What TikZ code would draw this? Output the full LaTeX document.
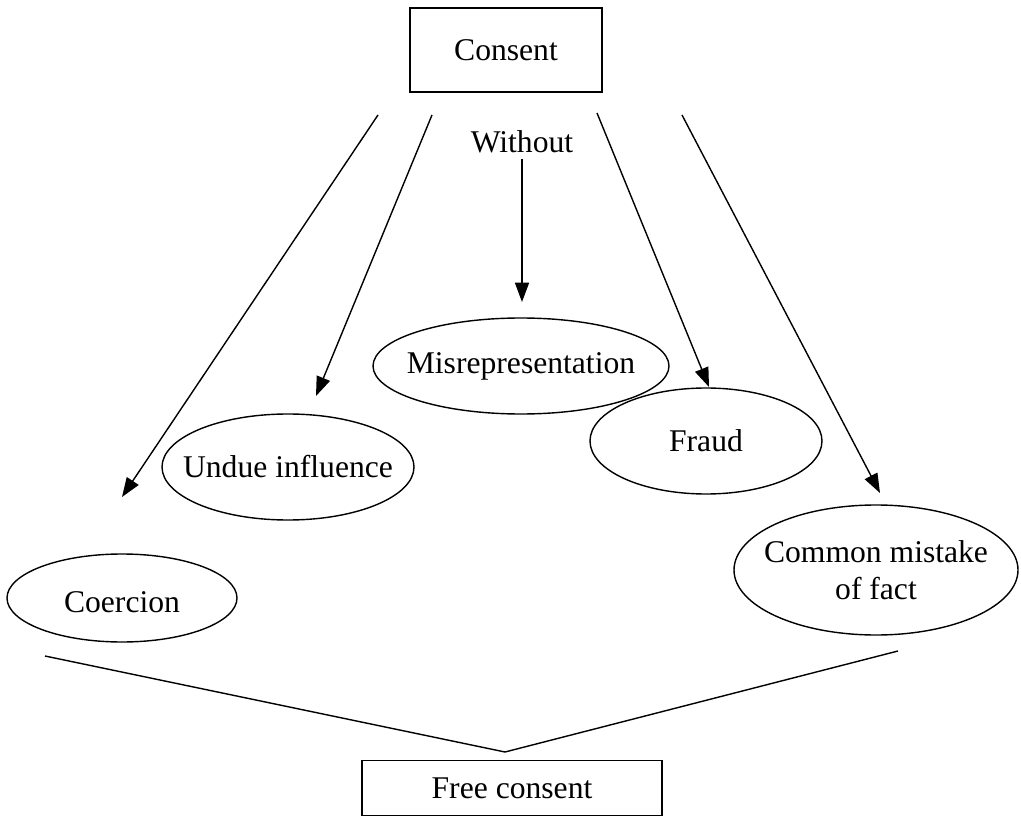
\documentclass[tikz,border=0pt]{standalone}
\usepackage{fontspec}
\setmainfont{Liberation Serif}
\usepackage{tikz}
\usetikzlibrary{positioning,arrows.meta}

\begin{document}
\begin{tikzpicture}[x=0.02cm,y=-0.02cm,
	font=\fontsize{18}{21}\selectfont,
	>={Triangle[length=11pt,width=8pt]},
	box/.style={draw,thick,rectangle},
	oval/.style={draw,thick}]
	\useasboundingbox (0,0) rectangle (1021,817);

	\node[box,minimum width=192*0.02cm,minimum height=84*0.02cm] (consent) at (506,50) {Consent};
	\node (without) at (522,142) {Without};
	\node[box,minimum width=300*0.02cm,minimum height=55*0.02cm] (free) at (512,788) {Free consent};

	\node (misrep) at (521,366) {Misrepresentation};
	\node (undue) at (288,467) {Undue influence};
	\node (fraud) at (706,441) {Fraud};
	\node (coercion) at (122,602) {Coercion};
	\node[align=center] (mistake) at (876,570) {Common mistake\\of fact};

	% ovals round the causes
	\draw[oval] (misrep.center) ellipse [x radius=148, y radius=48];
	\draw[oval] (undue.center) ellipse [x radius=126, y radius=53];
	\draw[oval] (fraud.center) ellipse [x radius=116, y radius=53];
	\draw[oval] (122,598) ellipse [x radius=115, y radius=44];
	\draw[oval] (mistake.center) ellipse [x radius=142, y radius=65];

	% free ends of the arrows
	\coordinate (c1) at (378,115);
	\coordinate (c2) at (432,115);
	\coordinate (c4) at (597,113);
	\coordinate (c5) at (682,115);
	\coordinate (t1) at (122,497);
	\coordinate (t2) at (316,396);
	\coordinate (t3) at (522,302);
	\coordinate (t4) at (709,387);
	\coordinate (t5) at (880,493);

	\path[->,thick] (c1) edge (t1);
	\path[->,thick] (c2) edge (t2);
	\path[->,thick] (without) edge (t3);
	\path[->,thick] (c4) edge (t4);
	\path[->,thick] (c5) edge (t5);

	% lines joining into free consent
	\coordinate (vl) at (45,656);
	\coordinate (vr) at (898,651);
	\coordinate (vtip) at (505,752);
	\draw[thick] (vl) -- (vtip) -- (vr);
\end{tikzpicture}
\end{document}
